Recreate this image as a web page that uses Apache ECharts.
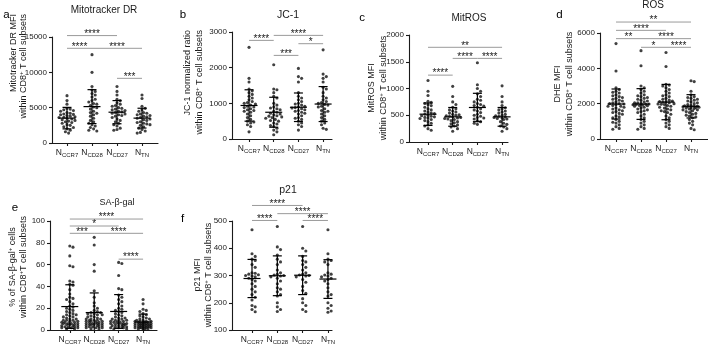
<!DOCTYPE html>
<html>
<head>
<meta charset="utf-8">
<script src="https://cdn.jsdelivr.net/npm/echarts@6/dist/echarts.min.js"></script>
<style>
  html, body { margin: 0; padding: 0; background: #fff; }
  #chart { width: 708px; height: 346px; }
</style>
</head>
<body>
<div id="chart"></div>
<script>
var categories = ['CCR7', 'CD28', 'CD27', 'TN'];
var catPos = [1, 2, 3, 4];

// a - Mitotracker DR
var mitoValues = [
  [6700, 6000, 5500, 4900, 4800, 4700, 4600, 4500, 4300, 4200, 4100, 4000, 3900, 3800, 3700, 3600, 3500, 3400, 3300, 3200, 3100, 3000, 2900, 2800, 2600, 2500, 2300, 2200, 2000, 1800, 1600, 1400, 3650, 4050],
  [12500, 10000, 8000, 7500, 7300, 7000, 6800, 6500, 6200, 6000, 5800, 5500, 5300, 5100, 5000, 4800, 4500, 4300, 4000, 3800, 3500, 3200, 3000, 2800, 2600, 2400, 2200, 2000, 1800, 1700, 5600, 4200],
  [8000, 7300, 6800, 6200, 6000, 5700, 5500, 5200, 5000, 4900, 4700, 4600, 4500, 4400, 4300, 4200, 4100, 4000, 3800, 3600, 3400, 3200, 3000, 2800, 2600, 2400, 2100, 1900, 1800, 4800, 3900, 5300],
  [6800, 6300, 5200, 4900, 4700, 4500, 4300, 4200, 4000, 3900, 3800, 3700, 3600, 3500, 3400, 3200, 3000, 2900, 2800, 2600, 2500, 2300, 2100, 1900, 1700, 1500, 1400, 3300, 4100, 2700]
];
var mitoMean = [3520, 5150, 4360, 3520];
var mitoSD = [1520, 2400, 1640, 1400];
var mitoTicks = [0, 5000, 10000, 15000];
var mitoSigPairs = [[1, 3], [1, 2], [2, 4], [3, 4]];
var mitoSigY = [15200, 13400, 13400, 9150];
var mitoSigStars = ['****', '****', '****', '***'];

// b - JC-1
var jc1Values = [
  [2570, 1700, 1600, 1400, 1350, 1300, 1200, 1150, 1100, 1050, 1000, 980, 950, 920, 900, 880, 850, 820, 800, 780, 750, 700, 650, 600, 550, 500, 480, 450, 400, 350, 200, 1250, 1020],
  [2080, 1400, 1380, 1300, 1200, 1150, 1000, 950, 900, 870, 820, 780, 750, 720, 700, 680, 650, 620, 600, 580, 550, 520, 500, 450, 420, 380, 350, 300, 250, 200, 120, 850, 640],
  [1980, 1750, 1700, 1600, 1300, 1200, 1150, 1100, 1050, 1000, 950, 920, 900, 880, 850, 820, 800, 780, 750, 720, 700, 650, 600, 580, 550, 500, 450, 400, 350, 250, 980, 870],
  [2500, 1820, 1750, 1700, 1600, 1450, 1400, 1300, 1200, 1150, 1100, 1050, 1000, 970, 950, 920, 900, 850, 800, 780, 750, 700, 650, 600, 550, 500, 450, 400, 300, 270, 1020]
];
var jc1Mean = [940, 750, 890, 980];
var jc1SD = [440, 420, 400, 490];
var jc1Ticks = [0, 1000, 2000, 3000];
var jc1SigPairs = [[1, 2], [2, 4], [3, 4], [2, 3]];
var jc1SigY = [2765, 2905, 2672, 2344];
var jc1SigStars = ['****', '****', '*', '***'];

// c - MitROS
var mitrosValues = [
  [1150, 950, 870, 760, 740, 720, 700, 680, 650, 620, 600, 580, 560, 540, 520, 500, 490, 480, 460, 450, 440, 420, 400, 380, 350, 320, 300, 250, 220, 530, 470],
  [1040, 850, 750, 700, 650, 620, 600, 580, 560, 540, 520, 500, 490, 480, 470, 460, 450, 440, 420, 400, 380, 360, 340, 320, 300, 280, 250, 200, 510, 430],
  [1480, 1070, 1000, 950, 900, 850, 800, 780, 750, 720, 700, 680, 650, 620, 600, 580, 550, 520, 500, 480, 460, 450, 430, 400, 380, 350, 330, 670],
  [1050, 850, 750, 680, 640, 620, 600, 580, 560, 540, 520, 500, 490, 480, 470, 460, 450, 440, 420, 400, 380, 350, 330, 300, 280, 250, 200, 510, 430, 460]
];
var mitrosMean = [520, 470, 645, 470];
var mitrosSD = [210, 175, 265, 175];
var mitrosTicks = [0, 500, 1000, 1500, 2000];
var mitrosSigPairs = [[1, 4], [2, 3], [3, 4], [1, 2]];
var mitrosSigY = [1770, 1563, 1563, 1250];
var mitrosSigStars = ['**', '****', '****', '****'];

// d - ROS (DHE)
var dheValues = [
  [5400, 3850, 2900, 2800, 2700, 2650, 2600, 2500, 2450, 2400, 2350, 2300, 2250, 2200, 2150, 2100, 2050, 2000, 1980, 1950, 1900, 1850, 1800, 1750, 1700, 1650, 1600, 1550, 1500, 1450, 1400, 1300, 1250, 1200, 1100, 1000, 950, 900, 800, 700, 600, 550, 2000, 1850],
  [5000, 4150, 3000, 2900, 2800, 2700, 2600, 2500, 2450, 2400, 2350, 2300, 2250, 2200, 2150, 2100, 2050, 2000, 1980, 1960, 1940, 1920, 1900, 1850, 1800, 1750, 1700, 1650, 1600, 1550, 1500, 1400, 1300, 1200, 1100, 1000, 900, 800, 700, 600, 550, 1950, 2050, 1880],
  [4900, 4100, 3100, 3050, 3000, 2900, 2800, 2700, 2600, 2500, 2450, 2400, 2300, 2250, 2200, 2150, 2100, 2080, 2050, 2000, 1980, 1950, 1900, 1850, 1800, 1750, 1700, 1650, 1600, 1550, 1500, 1400, 1300, 1200, 1100, 1000, 900, 800, 700, 600, 2120, 1970],
  [3300, 3250, 2700, 2500, 2400, 2350, 2300, 2250, 2200, 2150, 2100, 2050, 2000, 1950, 1900, 1880, 1860, 1840, 1820, 1800, 1780, 1750, 1720, 1700, 1650, 1600, 1550, 1500, 1450, 1400, 1350, 1300, 1250, 1200, 1100, 1000, 900, 800, 600, 520, 1780, 1850, 1650]
];
var dheMean = [1980, 1980, 2090, 1850];
var dheSD = [850, 870, 1000, 660];
var dheTicks = [0, 2000, 4000, 6000];
var dheSigPairs = [[1, 4], [1, 3], [1, 2], [2, 4], [2, 3], [3, 4]];
var dheSigY = [6620, 6150, 5680, 5680, 5190, 5190];
var dheSigStars = ['**', '****', '**', '****', '*', '****'];

// e - SA-beta-gal
var sabgalValues = [
  [77, 76, 68, 59, 58, 45, 44, 42, 41, 37, 33, 30, 29, 28, 26, 24, 22, 21, 20, 19, 18, 17, 16, 15, 14, 13, 12, 11, 10, 10, 9, 9, 8, 8, 7, 7, 6, 6, 6, 5, 5, 5, 4, 4, 4, 3, 3, 3, 2, 2, 2, 1, 1, 12, 14, 9, 7, 6],
  [85, 78, 60, 54, 36, 30, 25, 22, 20, 18, 17, 16, 16, 15, 15, 14, 14, 13, 12, 11, 10, 10, 9, 9, 8, 8, 8, 7, 7, 7, 6, 6, 6, 5, 5, 5, 5, 4, 4, 4, 3, 3, 3, 2, 2, 2, 1, 1, 9, 10, 12, 6],
  [62, 61, 50, 38, 37, 32, 30, 28, 26, 24, 22, 20, 19, 18, 17, 16, 15, 14, 13, 12, 11, 10, 10, 9, 9, 8, 8, 7, 7, 7, 6, 6, 6, 5, 5, 5, 4, 4, 4, 3, 3, 3, 2, 2, 2, 1, 1, 11, 9, 6],
  [28, 24, 19, 18, 17, 15, 14, 13, 12, 11, 10, 10, 9, 9, 8, 8, 8, 7, 7, 7, 6, 6, 6, 6, 5, 5, 5, 5, 4, 4, 4, 4, 3, 3, 3, 3, 2, 2, 2, 2, 1, 1, 1, 1, 5, 6, 3, 4, 2, 7, 8]
];
var sabgalMean = [21.5, 16, 17, 7.3];
var sabgalSD = [20, 18, 15.5, 7.3];
var sabgalTicks = [0, 20, 40, 60, 80, 100];
var sabgalSigPairs = [[1, 4], [1, 3], [1, 2], [2, 4], [3, 4]];
var sabgalSigY = [101.8, 95.4, 88.7, 88.7, 65];
var sabgalSigStars = ['****', '*', '***', '****', '****'];

// f - p21
var p21Values = [
  [468, 380, 370, 360, 355, 340, 330, 310, 308, 305, 303, 300, 298, 295, 290, 285, 280, 270, 260, 250, 240, 230, 220, 210, 190, 185, 175, 167],
  [480, 405, 395, 375, 360, 350, 340, 320, 310, 305, 302, 300, 298, 295, 290, 280, 270, 255, 250, 240, 230, 225, 200, 185, 175, 168],
  [480, 400, 390, 370, 355, 350, 340, 330, 320, 310, 305, 302, 300, 298, 295, 285, 275, 260, 245, 235, 215, 200, 190, 175, 168],
  [468, 380, 360, 355, 350, 340, 310, 305, 302, 300, 298, 295, 290, 285, 280, 270, 255, 240, 230, 225, 200, 190, 180, 170, 165]
];
var p21Mean = [289, 299, 301, 287];
var p21SD = [70, 73, 71, 71];
var p21Ticks = [100, 200, 300, 400, 500];
var p21SigPairs = [[1, 3], [2, 4], [1, 2], [3, 4]];
var p21SigY = [557, 527, 502, 502];
var p21SigStars = ['****', '****', '****', '****'];

var FONT = '"Liberation Sans", Arial, Helvetica, sans-serif';
var INK = '#1a1a1a';

var cd8Line = '{t|within CD8}{sup|+}{t| T cell subsets}';

var panels = [
  { letter: 'a', letterPos: [6.5, 15], title: 'Mitotracker DR', titlePos: [104, 10], titleSize: 10,
    grid: { left: 52, top: 37, width: 106, height: 106 }, xr: [0.4, 4.64],
    names: ['{t|Mitotracker DR MFI}', cd8Line], nameX: [13.5, 24], nameY: 14, nameAlign: 'right',
    values: mitoValues, mean: mitoMean, sd: mitoSD, ticks: mitoTicks,
    pairs: mitoSigPairs, sigY: mitoSigY, stars: mitoSigStars },
  { letter: 'b', letterPos: [183, 15], title: 'JC-1', titlePos: [288, 15], titleSize: 10.5,
    grid: { left: 232, top: 32, width: 100, height: 107 }, xr: [0.31, 4.36],
    names: ['{t|JC-1 normalized ratio}', cd8Line], nameX: [188, 200], nameY: 30, nameAlign: 'right',
    values: jc1Values, mean: jc1Mean, sd: jc1SD, ticks: jc1Ticks,
    pairs: jc1SigPairs, sigY: jc1SigY, stars: jc1SigStars },
  { letter: 'c', letterPos: [362, 17.5], title: 'MitROS', titlePos: [469, 18.5], titleSize: 10,
    grid: { left: 409, top: 35, width: 99, height: 107 }, xr: [0.23, 4.24],
    names: ['{t|MitROS MFI}', cd8Line], nameX: [372, 383.5], nameY: 88, nameAlign: 'center',
    values: mitrosValues, mean: mitrosMean, sd: mitrosSD, ticks: mitrosTicks,
    pairs: mitrosSigPairs, sigY: mitrosSigY, stars: mitrosSigStars },
  { letter: 'd', letterPos: [559.5, 15], title: 'ROS', titlePos: [653, 5], titleSize: 10,
    grid: { left: 600, top: 33, width: 108, height: 106 }, xr: [0.36, 4.68],
    names: ['{t|DHE MFI}', cd8Line], nameX: [558, 570], nameY: 84, nameAlign: 'center',
    values: dheValues, mean: dheMean, sd: dheSD, ticks: dheTicks,
    pairs: dheSigPairs, sigY: dheSigY, stars: dheSigStars },
  { letter: 'e', letterPos: [15, 208], title: 'SA-β-gal', titlePos: [117, 203], titleSize: 9,
    grid: { left: 50, top: 221, width: 107, height: 109 }, xr: [0.19, 4.57],
    names: ['{t|% of SA-β-gal}{sup|+}{t| cells}', '{t|within CD8}{sup|+}{t|T cell subsets}'], nameX: [13, 24], nameY: 267, nameAlign: 'center',
    values: sabgalValues, mean: sabgalMean, sd: sabgalSD, ticks: sabgalTicks,
    pairs: sabgalSigPairs, sigY: sabgalSigY, stars: sabgalSigStars },
  { letter: 'f', letterPos: [182.5, 219], title: 'p21', titlePos: [288, 190], titleSize: 10.5,
    grid: { left: 232, top: 221, width: 100, height: 109 }, xr: [0.21, 4.16],
    names: ['{t|p21 MFI}', cd8Line], nameX: [198, 208.5], nameY: 275, nameAlign: 'center',
    values: p21Values, mean: p21Mean, sd: p21SD, ticks: p21Ticks,
    pairs: p21SigPairs, sigY: p21SigY, stars: p21SigStars }
];

// simple beeswarm spread, in pixels, so dots sit side by side like Prism
function swarm(vals, cat, p) {
  var kx = p.grid.width / (p.xr[1] - p.xr[0]);
  var ky = p.grid.height / (p.ticks[p.ticks.length - 1] - p.ticks[0]);
  var D = 3.2, step = 1.6, maxOff = 9.2;
  var placed = [], out = [];
  var order = vals.map(function (v, i) { return i; })
    .sort(function (a, b) { return vals[b] - vals[a]; });
  order.forEach(function (i) {
    var py = vals[i] * ky, best = 0, bestD = -1;
    for (var k = 0; k < 20; k++) {
      var off = (k % 2 ? 1 : -1) * Math.ceil(k / 2) * step;
      if (Math.abs(off) > maxOff) break;
      var dmin = Infinity;
      placed.forEach(function (q) {
        var d = Math.hypot(q[0] - off, q[1] - py);
        if (d < dmin) dmin = d;
      });
      if (dmin >= D) { best = off; bestD = dmin; break; }
      if (dmin > bestD) { bestD = dmin; best = off; }
    }
    placed.push([best, py]);
    out.push([cat + best / kx, vals[i]]);
  });
  return out;
}

var tRich = {
  t: { fontSize: 9, fontFamily: FONT, color: INK, lineHeight: 11 },
  sup: { fontSize: 6, fontFamily: FONT, color: INK, lineHeight: 5, verticalAlign: 'top' }
};

var option = { animation: false, grid: [], xAxis: [], yAxis: [], series: [], graphic: [] };

panels.forEach(function (p, i) {
  var ymin = p.ticks[0], ymax = p.ticks[p.ticks.length - 1];
  option.grid.push({ left: p.grid.left, top: p.grid.top, width: p.grid.width, height: p.grid.height });

  option.xAxis.push({
    type: 'value', gridIndex: i, min: p.xr[0], max: p.xr[1],
    splitLine: { show: false },
    axisLine: { show: true, onZero: false, lineStyle: { color: INK, width: 1.1 } },
    axisTick: { show: true, length: 3, customValues: catPos, lineStyle: { color: INK, width: 1.1 } },
    axisLabel: {
      show: true, customValues: catPos, margin: 5,
      formatter: function (v) { return '{n|N}{s|' + categories[Math.round(v) - 1] + '}'; },
      rich: {
        n: { fontSize: 8.5, fontFamily: FONT, color: INK, lineHeight: 10 },
        s: { fontSize: 6, fontFamily: FONT, color: INK, lineHeight: 4, verticalAlign: 'bottom' }
      }
    }
  });

  option.yAxis.push({
    type: 'value', gridIndex: i, min: ymin, max: ymax, interval: p.ticks[1] - p.ticks[0],
    splitLine: { show: false },
    axisLine: { show: true, onZero: false, lineStyle: { color: INK, width: 1.1 } },
    axisTick: { show: true, length: 3, lineStyle: { color: INK, width: 1.1 } },
    axisLabel: { margin: 5, fontSize: 8, fontFamily: FONT, color: '#222',
      formatter: function (v) { return String(v); } }
  });

  var pts = [];
  p.values.forEach(function (vals, c) { pts = pts.concat(swarm(vals, catPos[c], p)); });
  option.series.push({
    type: 'scatter', xAxisIndex: i, yAxisIndex: i, data: pts,
    symbol: 'circle', symbolSize: 3.1, itemStyle: { color: '#111' }, silent: true
  });

  // mean ± SD
  option.series.push({
    type: 'custom', xAxisIndex: i, yAxisIndex: i, silent: true, z: 5,
    data: p.mean.map(function (m, c) { return [catPos[c], m, p.sd[c]]; }),
    renderItem: function (params, api) {
      var x = api.value(0), m = api.value(1), s = api.value(2);
      var lo = Math.max(m - s, ymin);
      var c = api.coord([x, m]), t = api.coord([x, m + s]), b = api.coord([x, lo]);
      var st = { stroke: '#000', lineWidth: 1.2 };
      var kids = [
        { type: 'line', shape: { x1: c[0] - 8.5, y1: c[1], x2: c[0] + 8.5, y2: c[1] }, style: st },
        { type: 'line', shape: { x1: t[0], y1: t[1], x2: b[0], y2: b[1] }, style: st },
        { type: 'line', shape: { x1: t[0] - 4.5, y1: t[1], x2: t[0] + 4.5, y2: t[1] }, style: st }
      ];
      if (m - s > ymin) {
        kids.push({ type: 'line', shape: { x1: b[0] - 4.5, y1: b[1], x2: b[0] + 4.5, y2: b[1] }, style: st });
      }
      return { type: 'group', children: kids };
    }
  });

  // significance brackets
  option.series.push({
    type: 'custom', xAxisIndex: i, yAxisIndex: i, silent: true, z: 6,
    data: p.pairs.map(function (pr, k) { return [pr[0], pr[1], p.sigY[k]]; }),
    renderItem: function (params, api) {
      var a = api.coord([api.value(0), api.value(2)]);
      var b = api.coord([api.value(1), api.value(2)]);
      return { type: 'group', children: [
        { type: 'line', shape: { x1: a[0], y1: a[1], x2: b[0], y2: b[1] },
          style: { stroke: '#9a9a9a', lineWidth: 1 } },
        { type: 'text', x: (a[0] + b[0]) / 2, y: a[1] - 1.5,
          style: { text: p.stars[params.dataIndex], fill: INK, fontSize: 10, fontFamily: FONT,
            align: 'center', verticalAlign: 'middle' } }
      ] };
    }
  });

  option.graphic.push({
    type: 'text', x: p.letterPos[0], y: p.letterPos[1], silent: true,
    style: { text: p.letter, fill: '#000', fontSize: 11.5, fontFamily: FONT, align: 'center', verticalAlign: 'middle' }
  });
  option.graphic.push({
    type: 'text', x: p.titlePos[0], y: p.titlePos[1], silent: true,
    style: { text: p.title, fill: INK, fontSize: p.titleSize, fontFamily: FONT, align: 'center', verticalAlign: 'middle' }
  });
  p.names.forEach(function (txt, k) {
    option.graphic.push({
      type: 'text', x: p.nameX[k], y: p.nameY, rotation: Math.PI / 2, silent: true,
      style: { text: txt, rich: tRich, fill: INK, fontSize: 9, fontFamily: FONT,
        align: p.nameAlign, verticalAlign: 'middle' }
    });
  });
});

var myChart = echarts.init(document.getElementById('chart'), null, { renderer: 'canvas' });
myChart.setOption(option);
</script>
</body>
</html>
